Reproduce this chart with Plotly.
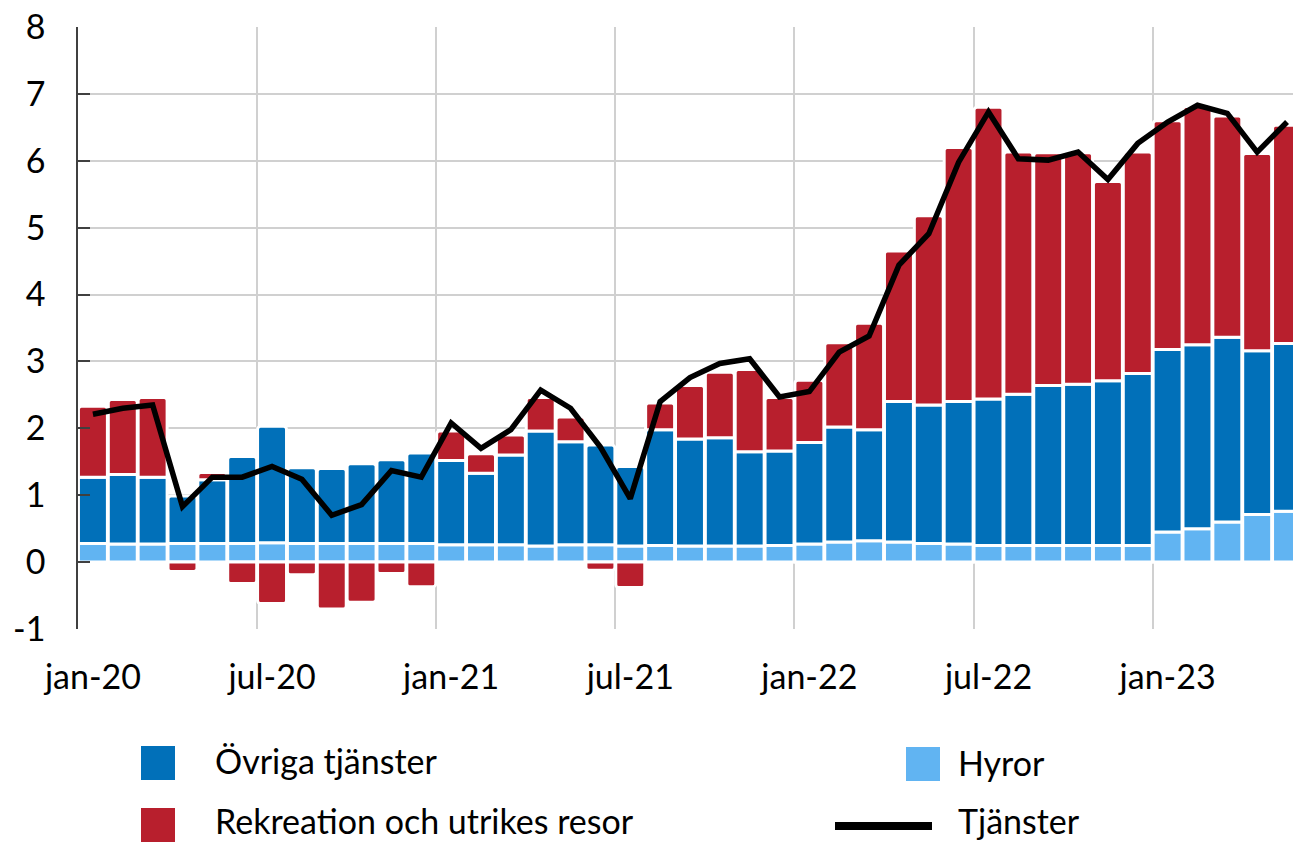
import plotly.graph_objects as go

months = ["jan-20","feb-20","mar-20","apr-20","maj-20","jun-20","jul-20","aug-20","sep-20","okt-20","nov-20","dec-20",
          "jan-21","feb-21","mar-21","apr-21","maj-21","jun-21","jul-21","aug-21","sep-21","okt-21","nov-21","dec-21",
          "jan-22","feb-22","mar-22","apr-22","maj-22","jun-22","jul-22","aug-22","sep-22","okt-22","nov-22","dec-22",
          "jan-23","feb-23","mar-23","apr-23","maj-23"]

hyror = [0.28,0.27,0.27,0.28,0.28,0.28,0.29,0.28,0.28,0.28,0.28,0.28,
         0.26,0.26,0.26,0.24,0.26,0.26,0.24,0.25,0.24,0.24,0.24,0.25,
         0.27,0.30,0.32,0.30,0.28,0.27,0.25,0.25,0.25,0.25,0.25,0.25,
         0.45,0.50,0.60,0.71,0.76]

ovriga = [0.99,1.04,1.00,0.71,0.95,1.30,1.74,1.13,1.12,1.19,1.25,1.35,
          1.26,1.07,1.34,1.72,1.54,1.49,1.19,1.73,1.60,1.62,1.41,1.41,
          1.52,1.72,1.66,2.10,2.07,2.13,2.19,2.26,2.39,2.41,2.46,2.57,
          2.73,2.75,2.76,2.45,2.51]

rekreation = [1.06,1.12,1.19,-0.14,0.11,-0.32,-0.62,-0.19,-0.70,-0.60,-0.17,-0.37,
              0.44,0.29,0.30,0.50,0.37,-0.12,-0.38,0.40,0.80,0.98,1.23,0.80,
              0.93,1.26,1.59,2.25,2.83,3.80,4.36,3.62,3.48,3.46,2.98,3.31,
              3.42,3.56,3.31,2.95,3.26]

tjanster = [2.21,2.30,2.35,0.83,1.27,1.27,1.43,1.24,0.70,0.86,1.37,1.27,
            2.08,1.70,1.98,2.57,2.30,1.72,0.95,2.40,2.76,2.97,3.04,2.47,
            2.55,3.14,3.38,4.44,4.91,5.98,6.73,6.03,6.01,6.13,5.72,6.26,
            6.58,6.83,6.71,6.13,6.58]

tick_labels = ["jan-20","jul-20","jan-21","jul-21","jan-22","jul-22","jan-23"]
y_ticks = [-1, 0, 1, 2, 3, 4, 5, 6, 7, 8]

C_DARK = "#0170B9"
C_LIGHT = "#61B4F2"
C_RED = "#B81F2D"
FONT = "Lato"
FS = 34

x = list(range(len(months)))
label_pos = [months.index(t) for t in tick_labels]
grid_pos = [p - 0.5 for p in label_pos]

fig = go.Figure()
bar_line = dict(color="white", width=3)
fig.add_trace(go.Bar(x=x, y=hyror, name="Hyror", marker=dict(color=C_LIGHT, line=bar_line, cornerradius=3)))
fig.add_trace(go.Bar(x=x, y=ovriga, name="Övriga tjänster", marker=dict(color=C_DARK, line=bar_line, cornerradius=3)))
fig.add_trace(go.Bar(x=x, y=rekreation, name="Rekreation och utrikes resor", marker=dict(color=C_RED, line=bar_line, cornerradius=3)))
fig.add_trace(go.Scatter(x=x, y=tjanster, name="Tjänster", mode="lines", xaxis="x2",
                         line=dict(color="black", width=5.5)))

L, T, W, H = 78, 27, 1293, 843
PW = W - L
PB = 629
PH = PB - T
def px(v):
    return (v - L) / PW
def py(v):
    return (PB - v) / PH

xr = [-0.5, len(months) - 0.5 - 0.3]

shapes = [
    dict(type="rect", xref="paper", yref="paper", x0=px(141), x1=px(175), y0=py(780), y1=py(746), fillcolor=C_DARK, line=dict(width=0)),
    dict(type="rect", xref="paper", yref="paper", x0=px(906), x1=px(940), y0=py(781), y1=py(747), fillcolor=C_LIGHT, line=dict(width=0)),
    dict(type="rect", xref="paper", yref="paper", x0=px(141), x1=px(175), y0=py(842), y1=py(808), fillcolor=C_RED, line=dict(width=0)),
    dict(type="line", xref="paper", yref="paper", x0=px(835), x1=px(932), y0=py(826), y1=py(826), line=dict(color="black", width=8)),
]
ann = []
for txt, ax_, ay_ in [("Övriga tjänster", 213, 760), ("Hyror", 956, 762),
                      ("Rekreation och utrikes resor", 213, 821), ("Tjänster", 956, 820)]:
    ann.append(dict(text=txt, xref="paper", yref="paper", x=px(ax_), y=py(ay_), xanchor="left", yanchor="middle",
                    showarrow=False, font=dict(family=FONT, size=FS, color="black")))

fig.update_layout(
    width=W, height=H,
    margin=dict(l=L, r=0, t=T, b=H - PB, pad=0, autoexpand=False),
    paper_bgcolor="white", plot_bgcolor="white",
    barmode="relative", bargap=0.03,
    showlegend=False,
    font=dict(family=FONT, size=FS, color="black"),
    shapes=shapes, annotations=ann,
    xaxis=dict(range=xr, tickmode="array", tickvals=grid_pos, ticktext=[""] * len(grid_pos), automargin=False,
               showgrid=True, gridcolor="#d0d0d0", gridwidth=2, zeroline=False, showline=False, ticks=""),
    xaxis2=dict(range=xr, overlaying="x", anchor="y", side="bottom", tickmode="array", tickvals=label_pos,
                ticktext=tick_labels, showgrid=False, zeroline=False, showline=False, ticks="", automargin=False,
                tickfont=dict(family=FONT, size=FS, color="black"), ticklabelstandoff=25),
    yaxis=dict(range=[-1, 8], tickmode="array", tickvals=y_ticks, ticktext=[str(v) for v in y_ticks],
               showgrid=True, gridcolor="#d0d0d0", gridwidth=2, automargin=False,
               zeroline=False, showline=True, linecolor="#404040", linewidth=1.5, ticks="inside", ticklen=12,
               tickcolor="#404040", tickwidth=1.5, tickfont=dict(family=FONT, size=FS, color="black"),
               ticklabelstandoff=24),
)

fig.write_html("out.html", config={"displayModeBar": False},
               post_script="document.body.style.margin='0';document.body.style.overflow='hidden';")
